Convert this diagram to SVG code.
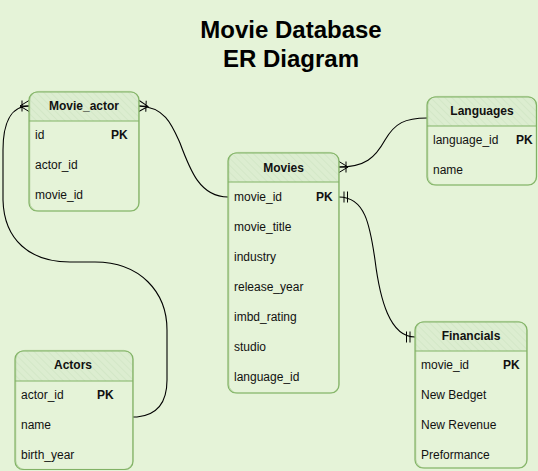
<svg xmlns="http://www.w3.org/2000/svg" width="538" height="471" viewBox="0 0 538 471">
<defs>
<style>
.bg{fill:#e5f3d8}
.box{fill:none;stroke:#82b366;stroke-width:1.2;stroke-linejoin:round}
.box2{fill:none;stroke:#82b366;stroke-width:0.8;opacity:0.55}
.hdr{fill:url(#hatch)}
.div{stroke:#82b366;stroke-width:1.2}
.t{font-family:"Liberation Sans",Arial,sans-serif;font-size:12px;fill:#111}
.b{font-weight:bold}
.c{text-anchor:middle}
.title{font-family:"Liberation Sans",Arial,sans-serif;font-size:24px;font-weight:bold;fill:#000;text-anchor:middle}
.edge{fill:none;stroke:#000;stroke-width:1.1}
.mk{fill:none;stroke:#000;stroke-width:1}
</style>
<pattern id="hatch" patternUnits="userSpaceOnUse" width="5" height="5" patternTransform="rotate(-45)">
<rect width="5" height="5" fill="#dcedd0"/>
<line x1="0" y1="0" x2="0" y2="5" stroke="#cde3c2" stroke-width="1.2"/>
</pattern>
<marker id="many" markerUnits="userSpaceOnUse" markerWidth="20" markerHeight="20" refX="10" refY="10" orient="auto-start-reverse" overflow="visible">
<path class="mk" d="M10,4.5 L1,10 L10,15.5 M1,10 L10,10 M3,4.5 L3,15.5"/>
</marker>
<marker id="one" markerUnits="userSpaceOnUse" markerWidth="20" markerHeight="20" refX="10" refY="10" orient="auto-start-reverse" overflow="visible">
<path class="mk" d="M5,4.5 L5,15.5 M1.5,4.5 L1.5,15.5"/>
</marker>
</defs>
<rect class="bg" x="0" y="0" width="538" height="471"/>
<text class="title" x="291" y="38">Movie Database</text>
<text class="title" x="291" y="67">ER Diagram</text>

<g id="connectors">
<path class="edge" d="M139,106 C165,107 172,125 180,143 C190,170 200,197 228,197" marker-start="url(#many)"/>
<path class="edge" d="M339,167 C365,167 375,158 385,140 C395,123 405,118 427,118" marker-start="url(#many)"/>
<path class="edge" d="M339,197 C365,197 370,225 375,260 C380,300 390,337 415,337" marker-start="url(#one)" marker-end="url(#one)"/>
<path class="edge" d="M133,417 L137,417 C158,415 167,402 167,380 L167,330 C167,292 140,262 95,262 L70,262 C30,262 4,240 3,200 L3,150 C3,125 10,106 29,106" marker-end="url(#many)"/>
</g>

<g id="Movie_actor">
<path class="hdr" d="M29,121 V100 Q29,92 37,92 H131 Q139,92 139,100 V121 Z"/>
<rect class="box" x="29" y="92" width="110" height="119" rx="8"/>
<rect class="box2" x="29.8" y="91.4" width="109" height="119.6" rx="9"/>
<line class="div" x1="29" y1="121" x2="139" y2="121"/>
<text class="t b c" x="84" y="110">Movie_actor</text>
<text class="t" x="35" y="139">id</text>
<text class="t b" x="111" y="139">PK</text>
<text class="t" x="35" y="169">actor_id</text>
<text class="t" x="35" y="199">movie_id</text>
</g>

<g id="Movies">
<path class="hdr" d="M228,182 V161 Q228,153 236,153 H331 Q339,153 339,161 V182 Z"/>
<rect class="box" x="228" y="153" width="111" height="240" rx="8"/>
<rect class="box2" x="228.8" y="152.4" width="110" height="240.6" rx="9"/>
<line class="div" x1="228" y1="182" x2="339" y2="182"/>
<text class="t b c" x="283.5" y="171.5">Movies</text>
<text class="t" x="234" y="201">movie_id</text>
<text class="t b" x="316" y="201">PK</text>
<text class="t" x="234" y="231">movie_title</text>
<text class="t" x="234" y="261">industry</text>
<text class="t" x="234" y="291">release_year</text>
<text class="t" x="234" y="321">imbd_rating</text>
<text class="t" x="234" y="351">studio</text>
<text class="t" x="234" y="381">language_id</text>
</g>

<g id="Languages">
<path class="hdr" d="M427,126 V105 Q427,97 435,97 H529 Q537,97 537,105 V126 Z"/>
<rect class="box" x="427" y="97" width="109.5" height="88" rx="8"/>
<rect class="box2" x="427.8" y="96.4" width="108.6" height="88.6" rx="9"/>
<line class="div" x1="427" y1="126" x2="536.5" y2="126"/>
<text class="t b c" x="482" y="115">Languages</text>
<text class="t" x="433" y="144">language_id</text>
<text class="t b" x="516" y="144">PK</text>
<text class="t" x="433" y="174">name</text>
</g>

<g id="Financials">
<path class="hdr" d="M415,351 V330 Q415,322 423,322 H519 Q527,322 527,330 V351 Z"/>
<rect class="box" x="415" y="322" width="112" height="146" rx="8"/>
<rect class="box2" x="415.8" y="321.4" width="111" height="146.6" rx="9"/>
<line class="div" x1="415" y1="351" x2="527" y2="351"/>
<text class="t b c" x="471" y="340">Financials</text>
<text class="t" x="421" y="369">movie_id</text>
<text class="t b" x="503" y="369">PK</text>
<text class="t" x="421" y="399">New Bedget</text>
<text class="t" x="421" y="429">New Revenue</text>
<text class="t" x="421" y="459">Preformance</text>
</g>

<g id="Actors">
<path class="hdr" d="M15,381 V359 Q15,351 23,351 H125 Q133,351 133,359 V381 Z"/>
<rect class="box" x="15" y="351" width="118" height="118.5" rx="8"/>
<rect class="box2" x="15.8" y="350.4" width="117" height="119" rx="9"/>
<line class="div" x1="15" y1="381" x2="133" y2="381"/>
<text class="t b c" x="73" y="369">Actors</text>
<text class="t" x="21" y="399">actor_id</text>
<text class="t b" x="97" y="399">PK</text>
<text class="t" x="21" y="429">name</text>
<text class="t" x="21" y="459">birth_year</text>
</g>
</svg>
